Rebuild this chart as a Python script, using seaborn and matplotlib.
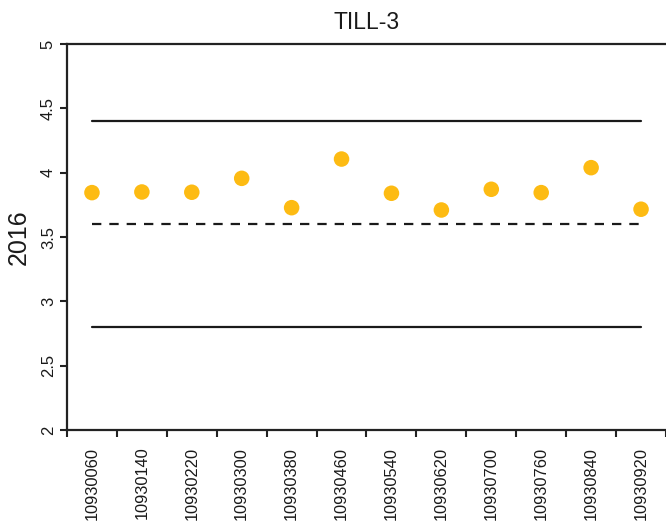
import matplotlib
matplotlib.use("Agg")
import matplotlib.pyplot as plt
import numpy as np
import pandas as pd
import seaborn as sns

# Sample codes and measured values
codes = ["10930060", "10930140", "10930220", "10930300", "10930380", "10930460",
         "10930540", "10930620", "10930700", "10930760", "10930840", "10930920"]
values = [3.845, 3.85, 3.848, 3.956, 3.728, 4.106,
          3.84, 3.71, 3.871, 3.845, 4.039, 3.716]

# Reference levels: upper limit, certified value, lower limit
upper_limit = 4.4
target_value = 3.6
lower_limit = 2.8

y_ticks = [2, 2.5, 3, 3.5, 4, 4.5, 5]
y_tick_labels = ["2", "2.5", "3", "3.5", "4", "4.5", "5"]

sns.set_theme(style="white")
plt.rcParams["font.family"] = ["Liberation Sans", "DejaVu Sans"]
plt.rcParams["text.color"] = "#1a1a1a"
plt.rcParams["xtick.color"] = "#1a1a1a"
plt.rcParams["ytick.color"] = "#1a1a1a"
plt.rcParams["axes.labelcolor"] = "#1a1a1a"

df = pd.DataFrame({"code": codes, "value": values})
levels = pd.DataFrame({
    "code": codes * 3,
    "level": [upper_limit] * len(codes) + [target_value] * len(codes) + [lower_limit] * len(codes),
    "kind": ["upper"] * len(codes) + ["target"] * len(codes) + ["lower"] * len(codes),
})

fig = plt.figure(figsize=(6.66, 5.27), dpi=100)
ax = fig.add_axes([0.1006, 0.184, 0.8994, 0.7325])

sns.lineplot(data=levels, x="code", y="level", style="kind",
             dashes={"upper": "", "target": (4.2, 3.6), "lower": ""},
             color="#1a1a1a", linewidth=1.6, legend=False, ax=ax)
sns.scatterplot(data=df, x="code", y="value", color="#FDBB13", s=125,
                edgecolor="none", zorder=3, legend=False, ax=ax)

ax.set_xlim(-0.5, len(codes) - 0.5)
ax.set_ylim(2, 5)
ax.set_yticks(y_ticks)
ax.set_yticklabels(y_tick_labels, rotation=90, va="center", fontsize=12)

ax.set_xticks(range(len(codes)))
ax.set_xticklabels(codes, rotation=90, fontsize=11.8)
ax.set_xticks(np.arange(-0.5, len(codes), 1.0), minor=True)
ax.tick_params(axis="x", which="major", length=0, pad=12)
ax.tick_params(axis="x", which="minor", length=5, width=1.5, color="#222222", direction="out", bottom=True)
ax.tick_params(axis="y", which="major", length=5, width=1.5, color="#222222", direction="out", left=True, pad=3)

for side in ["left", "bottom", "top"]:
    ax.spines[side].set_visible(True)
    ax.spines[side].set_color("#222222")
    ax.spines[side].set_linewidth(1.6)
ax.spines["right"].set_visible(False)

ax.set_xlabel("")
ax.set_ylabel("2016", fontsize=18, labelpad=7)
ax.set_title("TILL-3", fontsize=16.5, pad=11)

fig.savefig("out.png", dpi=100)
